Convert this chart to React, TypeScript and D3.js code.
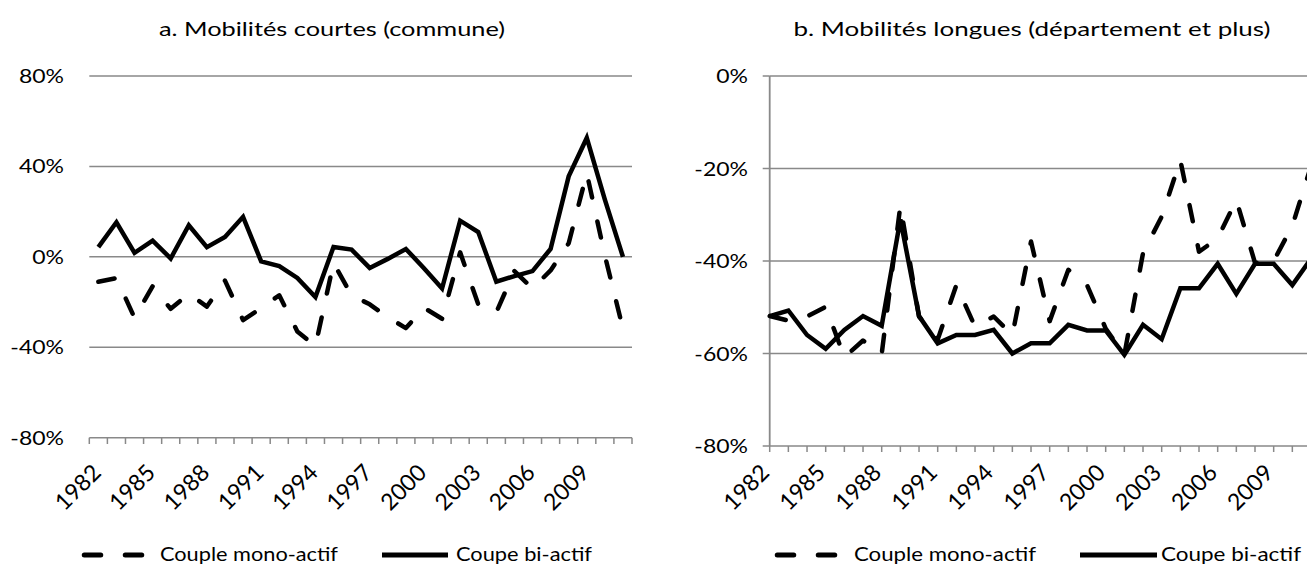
import React from 'react';
import * as d3 from 'd3';

const years: string[] = ['1982','1983','1984','1985','1986','1987','1988','1989','1990','1991','1992','1993','1994','1995','1996','1997','1998','1999','2000','2001','2002','2003','2004','2005','2006','2007','2008','2009','2010','2011'];
const yearLabels: string[] = ['1982','1985','1988','1991','1994','1997','2000','2003','2006','2009'];

// a. Mobilités courtes (commune)
const shortMono: number[] = [-11.0, -9.4, -27.0, -13.0, -23.0, -16.3, -22.0, -10.5, -28.0, -22.7, -17.0, -33.0, -39.5, -2.7, -17.0, -21.0, -26.7, -31.5, -22.5, -27.4, 2.0, -21.0, -24.5, -6.3, -14.0, -6.0, 6.0, 37.0, 0.6, -31.8];
const shortBi: number[] = [4.3, 15.3, 1.8, 7.2, -0.7, 14.0, 4.3, 8.8, 17.7, -2.0, -4.1, -9.3, -17.8, 4.4, 3.2, -4.9, -0.9, 3.5, -5.0, -14.0, 16.0, 11.0, -11.0, -8.5, -6.3, 3.5, 35.6, 52.6, 25.3, 0.0];

// b. Mobilités longues (département et plus)
const longMono: number[] = [-51.9, -52.9, -52.0, -49.9, -60.8, -57.2, -60.1, -28.0, -52.0, -57.0, -45.2, -54.2, -52.0, -56.0, -35.8, -53.0, -41.9, -45.2, -54.6, -60.3, -38.3, -30.4, -18.2, -38.0, -35.1, -26.8, -40.4, -40.0, -32.4, -19.5];
const longBi: number[] = [-51.9, -50.7, -56.0, -59.0, -54.9, -51.9, -54.0, -31.0, -51.9, -57.8, -56.0, -56.0, -54.9, -60.0, -57.8, -57.8, -53.8, -55.0, -55.0, -60.3, -53.8, -56.9, -45.9, -45.9, -40.6, -47.1, -40.6, -40.6, -45.2, -39.5];

const shortTicks: number[] = [80, 40, 0, -40, -80];
const longTicks: number[] = [0, -20, -40, -60, -80];

const seriesNames: string[] = ['Couple mono-actif', 'Coupe bi-actif'];
const titles: string[] = ['a. Mobilités courtes (commune)', 'b. Mobilités longues (département et plus)'];

const FONT = 'Lato, "Open Sans", sans-serif';
const GRID = '#898989';
const DASH = '16.5,24.5';
const LW = 4.5;

export default function App() {
  // Left chart scales
  const xL = d3.scaleBand<string>().domain(years).range([89.3, 632]).paddingInner(0).paddingOuter(0);
  const bw = xL.bandwidth();
  const cxL = (y: string) => (xL(y) as number) + bw / 2;
  const yL = d3.scaleLinear().domain([-80, 80]).range([437.7, 76]);

  // Right chart scales
  const xR = d3.scalePoint<string>().domain(years).range([769.7, 1311]);
  const yR = d3.scaleLinear().domain([-80, 0]).range([446, 76]);

  const lineL = d3.line<number>().x((_, i) => cxL(years[i])).y(d => yL(d));
  const lineR = d3.line<number>().x((_, i) => xR(years[i]) as number).y(d => yR(d));

  const leftBoundaries = [...years.map(y => xL(y) as number), 632];

  const pct = (v: number) => `${v}%`;

  return (
    <svg width={1307} height={565} style={{ position: 'absolute', left: 0, top: 0, background: '#fff' }} fontFamily={FONT}>
      <rect x={0} y={0} width={1307} height={565} fill="#fff" />
      {/* ===== Left chart ===== */}
      <text x={332} y={36} fontSize={20} textAnchor="middle" textLength={346} lengthAdjust="spacingAndGlyphs">{titles[0]}</text>
      {shortTicks.map(t => (
        <g key={'lg' + t}>
          <line x1={89.3} x2={632} y1={yL(t)} y2={yL(t)} stroke={GRID} strokeWidth={1.5} />
          <text x={0} y={0} fontSize={20} textAnchor="end" transform={`translate(64,${yL(t) + 7}) scale(1.15,1)`}>{pct(t)}</text>
        </g>
      ))}
      {leftBoundaries.map((bx, i) => (
        <line key={'lt' + i} x1={bx} x2={bx} y1={437.7} y2={444} stroke={GRID} strokeWidth={1.5} />
      ))}
      {yearLabels.map(y => (
        <text key={'lx' + y} fontSize={23} textAnchor="end" transform={`translate(${cxL(y) + 4},474) rotate(-45)`}>{y}</text>
      ))}
      <path d={lineL(shortBi) || ''} fill="none" stroke="#000" strokeWidth={LW} strokeLinejoin="miter" />
      <path d={lineL(shortMono) || ''} fill="none" stroke="#000" strokeWidth={LW} strokeDasharray={DASH} strokeLinecap="round" strokeLinejoin="round" />
      {/* legend left */}
      <line x1={84.25} x2={142.75} y1={555} y2={555} stroke="#000" strokeWidth={5} strokeDasharray={DASH} strokeLinecap="round" />
      <text x={160} y={561} fontSize={20} textLength={178} lengthAdjust="spacingAndGlyphs">{seriesNames[0]}</text>
      <line x1={382} x2={448} y1={555} y2={555} stroke="#000" strokeWidth={5} />
      <text x={456} y={561} fontSize={20} textLength={136} lengthAdjust="spacingAndGlyphs">{seriesNames[1]}</text>

      {/* ===== Right chart ===== */}
      <text x={1032} y={36} fontSize={20} textAnchor="middle" textLength={477} lengthAdjust="spacingAndGlyphs">{titles[1]}</text>
      {longTicks.map(t => (
        <g key={'rg' + t}>
          <line x1={769.7} x2={1311} y1={yR(t)} y2={yR(t)} stroke={GRID} strokeWidth={1.5} />
          <line x1={762.7} x2={769.7} y1={yR(t)} y2={yR(t)} stroke={GRID} strokeWidth={1.5} />
          <text x={0} y={0} fontSize={20} textAnchor="end" transform={`translate(748,${yR(t) + 7}) scale(1.15,1)`}>{pct(t)}</text>
        </g>
      ))}
      <line x1={769.7} x2={769.7} y1={76} y2={446} stroke={GRID} strokeWidth={1.8} />
      {years.map(y => (
        <line key={'rt' + y} x1={xR(y) as number} x2={xR(y) as number} y1={446} y2={452} stroke={GRID} strokeWidth={1.5} />
      ))}
      {yearLabels.map(y => (
        <text key={'rx' + y} fontSize={23} textAnchor="end" transform={`translate(${(xR(y) as number) + 1},474) rotate(-45)`}>{y}</text>
      ))}
      <path d={lineR(longBi) || ''} fill="none" stroke="#000" strokeWidth={LW} strokeLinejoin="miter" />
      <path d={lineR(longMono) || ''} fill="none" stroke="#000" strokeWidth={LW} strokeDasharray={DASH} strokeLinecap="round" strokeLinejoin="round" />
      {/* legend right */}
      <line x1={777.25} x2={835.75} y1={555} y2={555} stroke="#000" strokeWidth={5} strokeDasharray={DASH} strokeLinecap="round" />
      <text x={854} y={561} fontSize={20} textLength={182} lengthAdjust="spacingAndGlyphs">{seriesNames[0]}</text>
      <line x1={1080} x2={1157} y1={555} y2={555} stroke="#000" strokeWidth={5} />
      <text x={1161} y={561} fontSize={20} textLength={140} lengthAdjust="spacingAndGlyphs">{seriesNames[1]}</text>
    </svg>
  );
}
